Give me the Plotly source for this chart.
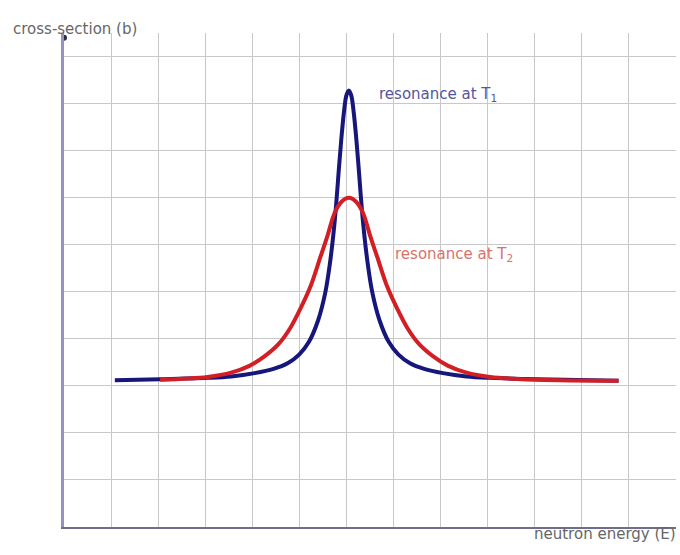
import plotly.graph_objects as go

# neutron energy (grid units) and cross-section values
energy_t1 = [1.08, 2.05, 3.05, 3.55, 4.05, 4.45, 4.75, 5.0, 5.2, 5.4, 5.55, 5.65, 5.75,
             5.85, 5.9, 5.95, 6.0, 6.05, 6.1, 6.15, 6.2, 6.25, 6.35, 6.45, 6.55,
             6.7, 6.9, 7.1, 7.35, 7.65, 8.05, 8.55, 9.05, 10.05, 11.78]
sigma_t1 = [3.12, 3.14, 3.17, 3.2, 3.27, 3.36, 3.48, 3.67, 3.93, 4.4, 4.98, 5.61, 6.5,
            7.75, 8.35, 8.85, 9.18, 9.28, 9.18, 8.85, 8.35, 7.75, 6.5, 5.61, 4.98,
            4.4, 3.93, 3.67, 3.48, 3.36, 3.27, 3.2, 3.17, 3.14, 3.11]

energy_t2 = [2.04, 3.05, 3.55, 3.95, 4.25, 4.55, 4.8, 5.05, 5.25, 5.45, 5.6, 5.75, 5.9, 6.05,
             6.2, 6.35, 6.5, 6.65, 6.85, 7.05, 7.3, 7.55, 7.85, 8.15, 8.55, 9.05, 10.05, 11.78]
sigma_t2 = [3.13, 3.19, 3.28, 3.43, 3.62, 3.88, 4.22, 4.7, 5.15, 5.75, 6.2, 6.68, 6.92, 7.0,
            6.92, 6.68, 6.2, 5.75, 5.15, 4.7, 4.22, 3.88, 3.62, 3.43, 3.28, 3.19, 3.13, 3.11]

label_t1 = "resonance at T<sub>1</sub>"
label_t2 = "resonance at T<sub>2</sub>"
label_y = "cross-section (b)"
label_x = "neutron energy (E)"

blue = "#17167a"
red = "#d21f26"

fig = go.Figure()
fig.add_trace(go.Scatter(x=energy_t1, y=sigma_t1, mode="lines",
                         line=dict(color=blue, width=4, shape="spline", smoothing=1.0)))
fig.add_trace(go.Scatter(x=energy_t2, y=sigma_t2, mode="lines",
                         line=dict(color=red, width=4, shape="spline", smoothing=1.0)))
# little dot at the tip of the y axis
fig.add_trace(go.Scatter(x=[0], y=[10.4], mode="markers", cliponaxis=False,
                         marker=dict(color="#2a2950", size=6)))

fig.add_annotation(x=6.65, y=9.2, text=label_t1, showarrow=False, xanchor="left",
                   font=dict(color="#55559a", size=15))
fig.add_annotation(x=6.99, y=5.8, text=label_t2, showarrow=False, xanchor="left",
                   font=dict(color="#d8726a", size=15))
fig.add_annotation(xref="paper", yref="paper", x=-0.086, y=1.031, text=label_y,
                   showarrow=False, xanchor="left", font=dict(color="#666666", size=15))
fig.add_annotation(xref="paper", yref="paper", x=1.003, y=-0.036, text=label_x,
                   showarrow=False, xanchor="right", font=dict(color="#666666", size=15))

fig.update_layout(
    width=680, height=555,
    margin=dict(l=64, r=4, t=33, b=28),
    plot_bgcolor="white", paper_bgcolor="white",
    showlegend=False,
    font=dict(family="DejaVu Sans, sans-serif"),
    xaxis=dict(range=[0, 13], dtick=1, showticklabels=False, ticks="",
               showgrid=True, gridcolor="#c8c8c8", gridwidth=1, zeroline=False,
               showline=True, linecolor="#6e6d8e", linewidth=2),
    yaxis=dict(range=[0, 10.5], dtick=1, showticklabels=False, ticks="",
               showgrid=True, gridcolor="#c8c8c8", gridwidth=1, zeroline=False,
               showline=True, linecolor="#9593c2", linewidth=3),
)

# drop the default page margin so the figure fills the window exactly
fig.write_html("out.html", config={"displayModeBar": False},
               post_script="document.body.style.margin='0';document.body.style.overflow='hidden';")
